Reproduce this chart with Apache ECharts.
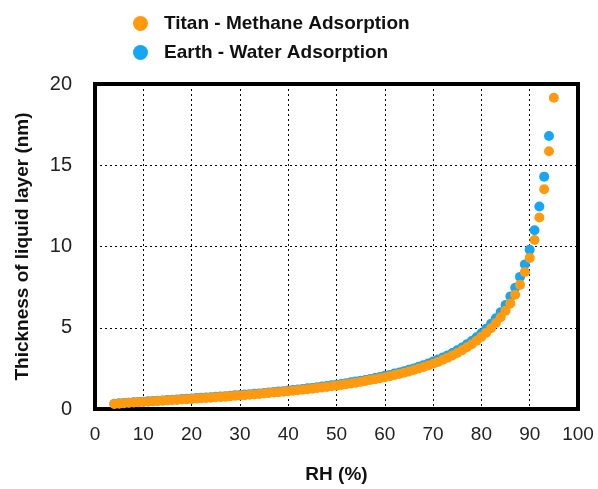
<!DOCTYPE html>
<html>
<head>
<meta charset="utf-8">
<script src="https://cdn.jsdelivr.net/npm/echarts@6/dist/echarts.min.js"></script>
<style>html,body{margin:0;padding:0;background:#fff}#c{width:598px;height:489px}</style>
</head>
<body>
<div id="c"></div>
<script>
var titanRH = [];
for (var r = 4; r <= 95; r++) titanRH.push(r);
var earthRH = [];
for (var r2 = 4; r2 <= 94; r2++) earthRH.push(r2);

var titanThickness = [
0.31,0.33,0.36,0.38,0.40,0.42,0.43,0.45,0.47,0.49,0.51,0.53,0.55,0.56,0.58,0.60,0.62,0.64,0.66,0.68,
0.70,0.72,0.74,0.76,0.79,0.81,0.83,0.85,0.88,0.90,0.93,0.95,0.98,1.01,1.03,1.06,1.09,1.12,1.15,1.18,
1.22,1.25,1.29,1.32,1.36,1.40,1.44,1.48,1.53,1.57,1.62,1.67,1.72,1.78,1.83,1.89,1.95,2.02,2.09,2.16,
2.23,2.31,2.40,2.49,2.58,2.68,2.79,2.90,3.03,3.16,3.30,3.45,3.62,3.80,3.99,4.20,4.44,4.69,4.97,5.29,
5.65,6.05,6.50,7.03,7.64,8.43,9.30,10.40,11.78,13.52,15.86,19.15];

var earthThickness = [
0.32,0.35,0.37,0.39,0.41,0.43,0.45,0.47,0.49,0.51,0.53,0.55,0.57,0.59,0.61,0.63,0.65,0.67,0.69,0.71,
0.73,0.75,0.77,0.79,0.82,0.84,0.86,0.89,0.91,0.94,0.96,0.99,1.02,1.05,1.07,1.10,1.14,1.17,1.20,1.23,
1.27,1.30,1.34,1.38,1.42,1.46,1.50,1.54,1.59,1.64,1.69,1.74,1.79,1.85,1.91,1.97,2.04,2.10,2.18,2.25,
2.33,2.41,2.50,2.60,2.70,2.80,2.92,3.04,3.17,3.30,3.45,3.62,3.79,3.98,4.19,4.41,4.66,4.94,5.24,5.58,
5.96,6.40,6.93,7.46,8.13,8.90,9.80,11.00,12.46,14.30,16.80];

var xTicks = [0,10,20,30,40,50,60,70,80,90,100];
var yTicks = [0,5,10,15,20];

function pairs(xs, ys){ return xs.map(function(x,i){ return [x, ys[i]]; }); }

var FONT = '"Liberation Sans", Arial, Helvetica, sans-serif';
var chart = echarts.init(document.getElementById('c'), null, {renderer:'canvas'});
chart.setOption({
  animation: false,
  backgroundColor: '#fff',
  legend: {
    orient: 'vertical',
    left: 128, top: 9,
    itemWidth: 15, itemHeight: 15, itemGap: 10,
    icon: 'circle',
    data: ['Titan - Methane Adsorption', 'Earth - Water Adsorption'],
    textStyle: { fontFamily: FONT, fontWeight: 'bold', fontSize: 19, color: '#111', padding: [0,0,0,11] }
  },
  grid: {
    left: 95, right: 20, top: 84, bottom: 78,
    show: true, borderColor: '#000', borderWidth: 4, backgroundColor: 'transparent'
  },
  xAxis: {
    type: 'value', min: 0, max: 100, interval: 10,
    name: 'RH (%)', nameLocation: 'middle', nameGap: 56,
    nameTextStyle: { fontFamily: FONT, fontWeight: 'bold', fontSize: 19, color: '#111' },
    axisLine: { show: false }, axisTick: { show: false },
    axisLabel: { fontFamily: FONT, fontSize: 19, color: '#222', margin: 16,
      formatter: function(v){ return xTicks.indexOf(v) >= 0 ? String(v) : ''; } },
    splitLine: { show: true, lineStyle: { color: '#000', width: 1, type: [2,3] } }
  },
  yAxis: {
    type: 'value', min: 0, max: 20, interval: 5,
    name: 'Thickness of liquid layer (nm)', nameLocation: 'middle', nameGap: 63,
    nameTextStyle: { fontFamily: FONT, fontWeight: 'bold', fontSize: 19, color: '#111' },
    axisLine: { show: false }, axisTick: { show: false },
    axisLabel: { fontFamily: FONT, fontSize: 20, color: '#222', margin: 23,
      formatter: function(v){ return yTicks.indexOf(v) >= 0 ? String(v) : ''; } },
    splitLine: { show: true, lineStyle: { color: '#000', width: 1, type: [2,3] } }
  },
  series: [
    { name: 'Earth - Water Adsorption', type: 'scatter', symbol: 'circle', symbolSize: 10,
      itemStyle: { color: '#17a6f5', opacity: 1 }, data: pairs(earthRH, earthThickness), z: 2 },
    { name: 'Titan - Methane Adsorption', type: 'scatter', symbol: 'circle', symbolSize: 10,
      itemStyle: { color: '#ff9a0f', opacity: 1 }, data: pairs(titanRH, titanThickness), z: 3 }
  ]
});
</script>
</body>
</html>
